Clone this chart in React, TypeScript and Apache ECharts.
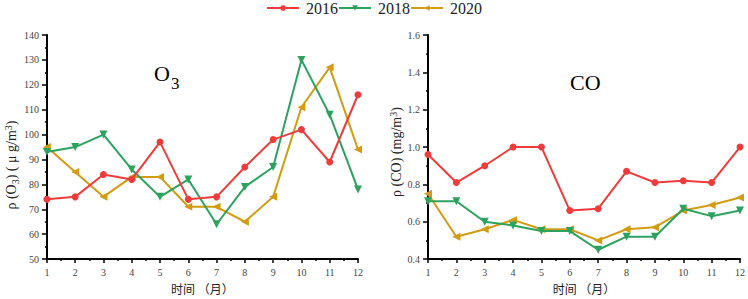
import React, { useEffect, useRef } from 'react';
import * as echarts from 'echarts';

const months = [1, 2, 3, 4, 5, 6, 7, 8, 9, 10, 11, 12];
const seriesNames = ['2016', '2018', '2020'];
const o3_2016 = [74, 75, 84, 82, 97, 74, 75, 87, 98, 102, 89, 116];
const o3_2018 = [93, 95, 100, 86, 75, 82, 64, 79, 87, 130, 108, 78];
const o3_2020 = [95, 85, 75, 83, 83, 71, 71, 65, 75, 111, 127, 94];
const co_2016 = [0.96, 0.81, 0.9, 1.0, 1.0, 0.66, 0.67, 0.87, 0.81, 0.82, 0.81, 1.0];
const co_2018 = [0.71, 0.71, 0.6, 0.58, 0.55, 0.55, 0.45, 0.52, 0.52, 0.67, 0.63, 0.66];
const co_2020 = [0.75, 0.52, 0.56, 0.61, 0.56, 0.56, 0.5, 0.56, 0.57, 0.66, 0.69, 0.73];
const o3Ticks = { min: 50, max: 140, interval: 10 };
const coTicks = { min: 0.4, max: 1.6, interval: 0.2 };

const colors = ['#EF3B3B', '#2CA25F', '#D29B12'];
const symbols = ['circle', 'triangle', 'triangle'];
const rotates = [0, 180, 90];
const sizes = [7, 8, 8];

const serif = 'Liberation Serif';
const cjk = 'Noto Sans CJK SC';

function App() {
  const ref = useRef<HTMLDivElement>(null);
  useEffect(() => {
    if (!ref.current) return;
    const chart = echarts.init(ref.current, null, { renderer: 'svg' });
    const xAxisBase = (gridIndex: number) => ({
      type: 'value',
      gridIndex,
      min: 1,
      max: 12,
      interval: 1,
      name: '时间 （月）',
      nameLocation: 'middle',
      nameGap: 21,
      nameTextStyle: { fontFamily: cjk, fontSize: 12, color: '#222' },
      axisLine: { lineStyle: { color: '#000', width: 2 } },
      axisTick: { show: true, length: 4, lineStyle: { color: '#000', width: 1.5 } },
      minorTick: { show: true, splitNumber: 2, length: 2, lineStyle: { color: '#000', width: 1.5 } },
      axisLabel: { fontFamily: serif, fontSize: 10, color: '#444', margin: 8 },
      splitLine: { show: false },
    });
    const yAxisBase = (gridIndex: number, t: any, name: string, rich: any, nameGap: number, pad: number, dec: number) => ({
      type: 'value',
      gridIndex,
      min: t.min,
      max: t.max,
      interval: t.interval,
      name,
      nameLocation: 'middle',
      nameGap,
      nameTextStyle: { fontFamily: serif, fontSize: 14, color: '#222', rich, padding: [0, pad, 0, 0] },
      axisLine: { show: true, lineStyle: { color: '#000', width: 2 } },
      axisTick: { show: true, length: 5, lineStyle: { color: '#000', width: 1.5 } },
      minorTick: { show: true, splitNumber: 2, length: 2, lineStyle: { color: '#000', width: 1.5 } },
      axisLabel: {
        fontFamily: serif,
        fontSize: 10,
        color: '#444',
        margin: 8,
        formatter: (v: number) => v.toFixed(dec),
      },
      splitLine: { show: false },
    });
    const subRich = {
      sub: { fontFamily: serif, fontSize: 10, verticalAlign: 'bottom', lineHeight: 10, padding: [9, 0, 0, 0], color: '#222' },
      sup: { fontFamily: serif, fontSize: 10, verticalAlign: 'top', lineHeight: 10, color: '#222' },
      b: { fontFamily: serif, fontSize: 14, verticalAlign: 'middle', lineHeight: 17, color: '#222' },
    };
    const mk = (arr: number[], i: number, axisIdx: number) => ({
      name: seriesNames[i],
      type: 'line',
      xAxisIndex: axisIdx,
      yAxisIndex: axisIdx,
      data: months.map((m, k) => [m, arr[k]]),
      symbol: symbols[i],
      symbolRotate: rotates[i],
      symbolSize: sizes[i],
      lineStyle: { color: colors[i], width: 2 },
      itemStyle: { color: colors[i] },
      z: 3 - i,
    });
    const tStyle = (size: number, lh: number) => ({ fontFamily: serif, fontSize: size, lineHeight: lh, fontWeight: 'normal', color: '#000' });
    chart.setOption({
      animation: false,
      backgroundColor: '#fff',
      title: [
        { text: 'O', left: 154, top: 64, padding: 0, textStyle: tStyle(22, 18) },
        { text: '3', left: 171, top: 76, padding: 0, textStyle: tStyle(17, 14) },
        { text: 'CO', left: 565, top: 66, textStyle: tStyle(22, 22) },
      ],
      legend: {
        data: seriesNames,
        top: 0,
        left: 'center',
        padding: 0,
        itemWidth: 32,
        itemHeight: 7,
        itemGap: 0,
        textStyle: { fontFamily: serif, fontSize: 16, lineHeight: 12, color: '#222', padding: [0, 0, 0, 2] },
      },
      grid: [
        { left: 42, top: 35, width: 316, height: 232 },
        { left: 428, top: 35, width: 317, height: 232 },
      ],
      xAxis: [xAxisBase(0), xAxisBase(1)],
      yAxis: [
        yAxisBase(0, o3Ticks, '{b|ρ (O}{sub|3}{b|) ( μ g/m}{sup|3}{b|)}', subRich, 22, 36, 0),
        yAxisBase(1, coTicks, '{b|ρ (CO) (mg/m}{sup|3}{b|)}', subRich, 20, 10, 1),
      ],
      series: [
        mk(o3_2016, 0, 0),
        mk(o3_2018, 1, 0),
        mk(o3_2020, 2, 0),
        mk(co_2016, 0, 1),
        mk(co_2018, 1, 1),
        mk(co_2020, 2, 1),
      ],
    });
    return () => chart.dispose();
  }, []);
  return <div ref={ref} style={{ width: 748, height: 299, position: 'absolute', left: 0, top: 0 }} />;
}

export default App;
